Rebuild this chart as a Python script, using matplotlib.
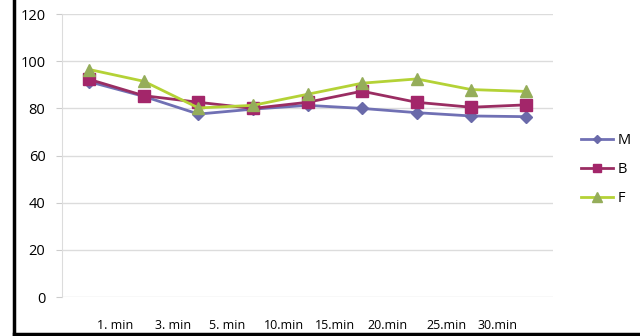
import numpy as np
from matplotlib import pyplot as plt
from matplotlib.lines import Line2D

plt.rcParams['font.family'] = ['Open Sans', 'DejaVu Sans']

# values
points = np.arange(9)
M = [91.3, 85.1, 77.6, 79.7, 81.3, 80.0, 78.2, 76.8, 76.5]
B = [92.3, 85.4, 82.6, 80.0, 82.6, 87.3, 82.6, 80.5, 81.5]
F = [96.5, 91.5, 80.2, 81.3, 86.0, 90.7, 92.5, 88.0, 87.2]
tick_labels = ['1. min', '3. min', '5. min', '10.min', '15.min', '20.min', '25.min', '30.min']
tick_pos = [0.48, 1.54, 2.53, 3.56, 4.51, 5.47, 6.55, 7.49]

fig = plt.figure(figsize=(6.4, 3.36), dpi=100)
ax = fig.add_axes([0.097, 0.116, 0.767, 0.842])

ax.plot(points, M, color='#7070b4', lw=2, marker='D', ms=6, mfc='#6a6aaa', mec='#6a6aaa', label='M', zorder=3)
ax.plot(points, B, color='#9a2d62', lw=2, marker='s', ms=8, mfc='#a3266a', mec='#a3266a', label='B', zorder=3)
ax.plot(points, F, color='#b4d236', lw=2, marker='^', ms=9, mfc='#95ad5a', mec='#95ad5a', label='F', zorder=3)

ax.set_xlim(-0.5, 8.5)
ax.set_ylim(0, 120)
ax.set_yticks(range(0, 121, 20))
ax.set_xticks(tick_pos)
ax.set_xticklabels(tick_labels, fontsize=9)
ax.tick_params(axis='x', length=0, pad=16)
ax.tick_params(axis='y', length=4, color='#cccccc', labelsize=10.5, pad=8)
ax.grid(axis='y', color='#dcdcdc', lw=1)
for s in ['top', 'right', 'bottom']:
    ax.spines[s].set_visible(False)
ax.spines['left'].set_color('#dcdcdc')
ax.set_axisbelow(True)

ax.legend(loc='center left', bbox_to_anchor=(1.03, 0.45), frameon=False, fontsize=10.5,
          handlelength=2.2, labelspacing=0.95, handletextpad=0.3, markerscale=0.75)

# black border on left and bottom of the picture
fig.add_artist(Line2D([0.022, 0.022], [0.005, 1.0], color='black', lw=2.5))
fig.add_artist(Line2D([0.022, 1.0], [0.005, 0.005], color='black', lw=2.5))

fig.savefig('out.png', dpi=100)
